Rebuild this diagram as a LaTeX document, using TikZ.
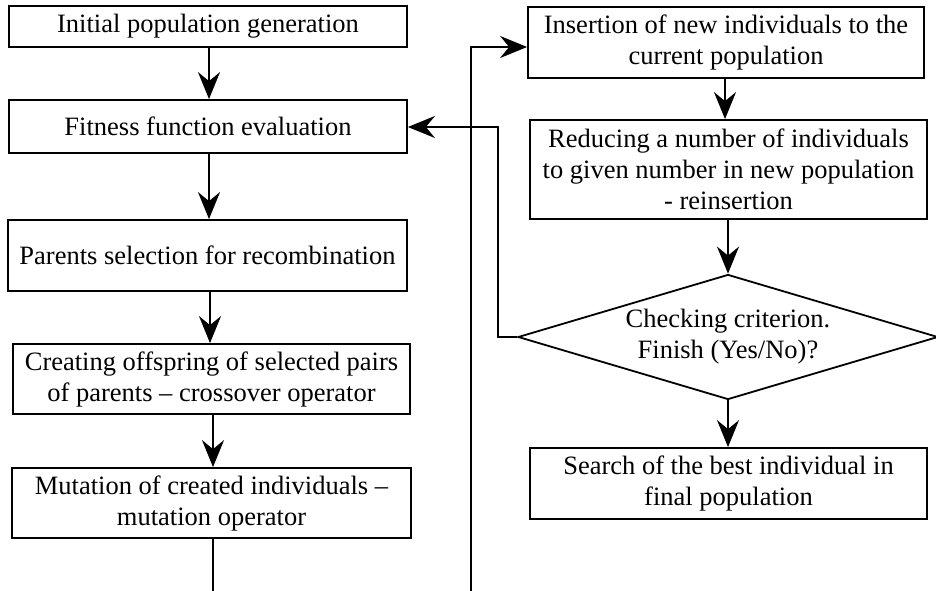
\documentclass[tikz,border=0pt]{standalone}
\usepackage{fontspec}
\setmainfont{Liberation Serif}
\usetikzlibrary{arrows.meta,shapes.geometric}
\begin{document}
\begin{tikzpicture}[x=1pt,y=-1pt,
  box/.style={draw, line width=1.8pt, rectangle, inner sep=0pt, align=center,
    font=\fontsize{26.5}{31}\selectfont},
  decision/.style={draw, line width=1.8pt, diamond, aspect=3.36, inner sep=0pt, align=center,
    font=\fontsize{26.5}{31}\selectfont},
  arr/.style={line width=1.8pt, -{Stealth[length=27pt,width=22pt,inset=9pt]}},
  ln/.style={line width=1.8pt}]
\useasboundingbox (0,0) rectangle (936,591);
\node[box, minimum width=398pt, minimum height=41pt] (b1) at (208,26.5) {Initial population generation};
\node[box, minimum width=398pt, minimum height=53pt] (b2) at (208,126.5) {Fitness function evaluation};
\node[box, minimum width=399pt, minimum height=71pt] (b3) at (207.5,255.5) {Parents selection for recombination};
\node[box, minimum width=397pt, minimum height=70pt] (b4) at (211.5,379) {Creating offspring of selected pairs\\of parents -- crossover operator};
\node[box, minimum width=399pt, minimum height=70pt] (b5) at (211.5,503) {Mutation of created individuals --\\mutation operator};
\node[box, minimum width=396pt, minimum height=71pt] (ins) at (726,42.5) {Insertion of new individuals to the\\current population};
\node[box, minimum width=397pt, minimum height=99pt] (red) at (728.5,169.5) {Reducing a number of individuals\\to given number in new population\\- reinsertion};
\node[decision, minimum width=420pt, minimum height=125pt] (dia) at (728,337) {Checking criterion.\\Finish (Yes/No)?};
\node[box, minimum width=397pt, minimum height=71pt] (srch) at (728.5,483.5) {Search of the best individual in\\final population};
\coordinate (endL) at (213,591);
\coordinate (endR) at (471,591);
\draw[arr] (b1.south -| 209,0) -- (b2.north -| 209,0);
\draw[arr] (b2.south -| 209,0) -- (b3.north -| 209,0);
\draw[arr] (b3.south -| 210,0) -- (b4.north -| 210,0);
\draw[arr] (b4.south -| 213,0) -- (b5.north -| 213,0);
\draw[ln] (b5.south -| endL) -- (endL);
\draw[arr] (endR) |- (ins.west |- 0,47);
\draw[arr] (ins.south -| 725,0) -- (red.north -| 725,0);
\draw[arr] (red.south -| dia.north) -- (dia.north);
\draw[arr] (dia.south) -- (srch.north -| dia.south);
\draw[arr] (dia.west) -- ++(-19,0) |- (b2.east |- 0,127);
\end{tikzpicture}
\end{document}
